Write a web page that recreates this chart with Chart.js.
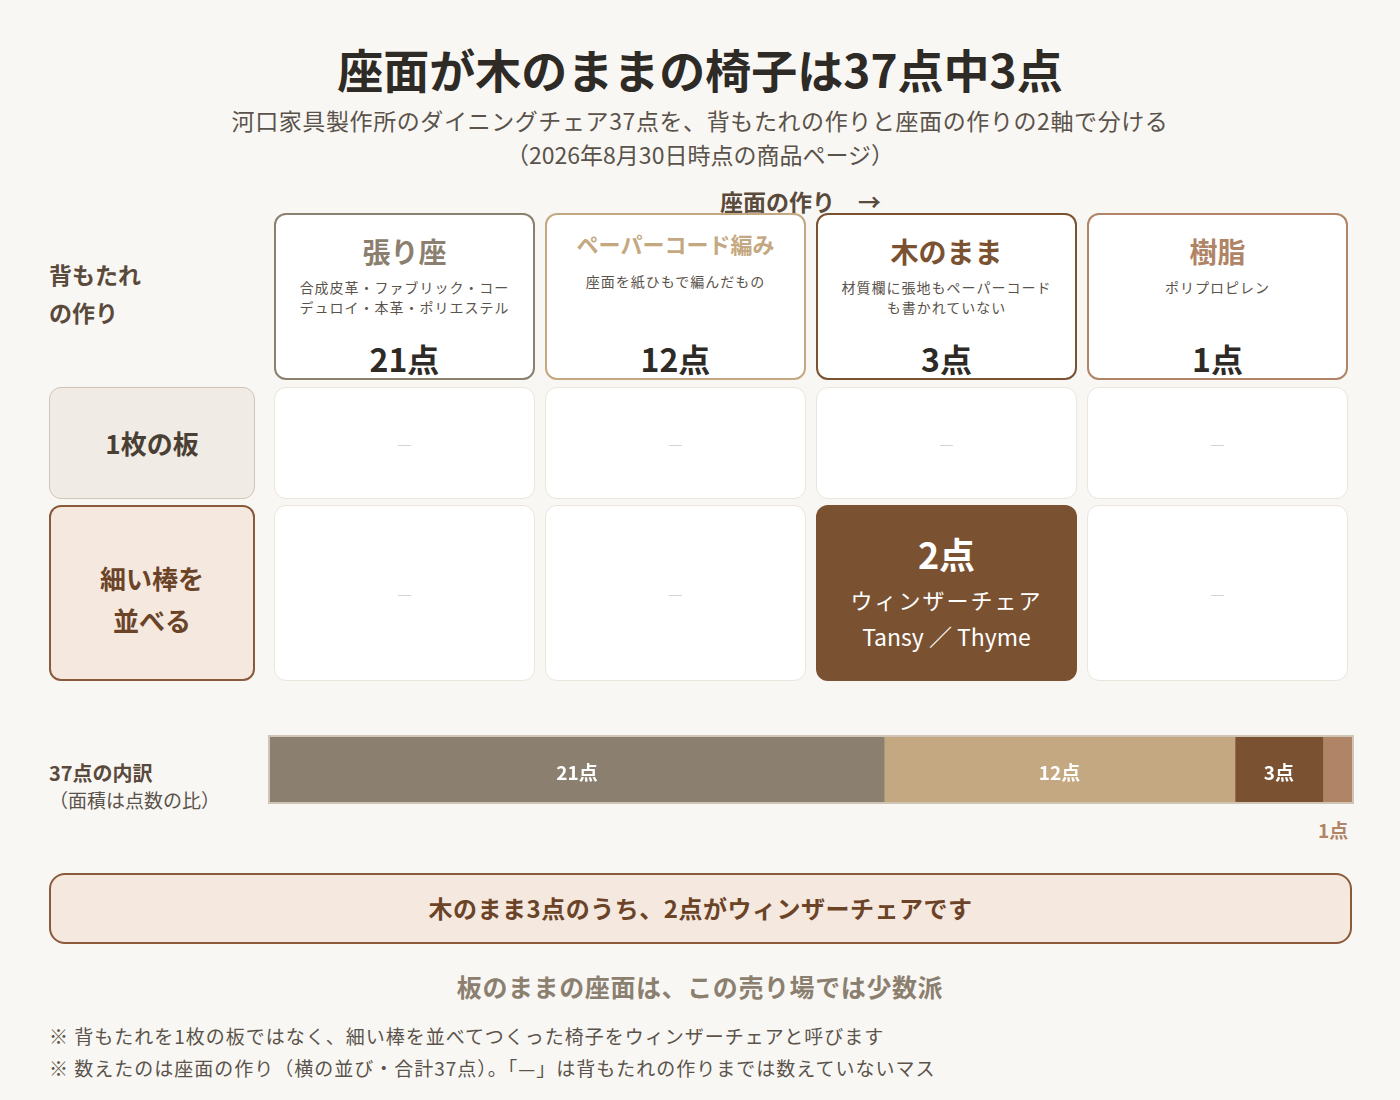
<!DOCTYPE html>
<html><head><meta charset="utf-8">
<script src="https://cdn.jsdelivr.net/npm/chart.js@4"></script>
<style>
body{margin:0;width:1400px;height:1100px;background:#f9f7f3;font-family:"Noto Sans CJK JP",sans-serif;color:#3a332c;position:relative;overflow:hidden}
.a{position:absolute}
.c{text-align:center}
.card{position:absolute;box-sizing:border-box;border-radius:12px;background:#fff}
.dash{color:#d8d2c8;font-size:16px}
</style></head><body>
<div class="a c" style="left:0;width:1400px;top:38px;font-size:46px;line-height:60px;font-weight:700;color:#2e2a25">座面が木のままの椅子は37点中3点</div>
<div class="a c" style="left:0;width:1400px;top:104px;font-size:23px;line-height:32px;color:#5a534b;letter-spacing:0.6px">河口家具製作所のダイニングチェア37点を、背もたれの作りと座面の作りの2軸で分ける</div>
<div class="a c" style="left:0;width:1400px;top:138px;font-size:23px;line-height:32px;color:#5a534b">（2026年8月30日時点の商品ページ）</div>
<div class="a" style="left:720px;top:184px;font-size:23px;font-weight:700;color:#5a4a3c">座面の作り　→</div>
<div class="a" style="left:49px;top:255px;font-size:23px;font-weight:700;color:#5a4a3c;line-height:38px">背もたれ<br>の作り</div>
<div id="grid"></div>
<div class="a" style="left:49px;top:758px;font-size:20px;font-weight:700;color:#5a4a3c">37点の内訳</div>
<div class="a" style="left:49px;top:786px;font-size:19px;color:#5a534b">（面積は点数の比）</div>
<div class="a" style="left:268px;top:735px;width:1086px;height:69px"><canvas id="bar"></canvas></div>
<div class="a" style="left:1318px;top:816px;font-size:19px;font-weight:700;color:#b08466">1点</div>
<div class="card c" style="left:49px;top:873px;width:1303px;height:71px;background:#f5e8df;border:2.5px solid #8b5a3a;border-radius:16px;font-size:24px;font-weight:700;color:#6b4428;line-height:66px;letter-spacing:0.5px">木のまま3点のうち、2点がウィンザーチェアです</div>
<div class="a c" style="left:0;width:1400px;top:968px;font-size:25px;font-weight:700;color:#8b8070;letter-spacing:0.6px">板のままの座面は、この売り場では少数派</div>
<div class="a" style="left:49px;top:1022px;font-size:19px;color:#5a534b;letter-spacing:1px">※ 背もたれを1枚の板ではなく、細い棒を並べてつくった椅子をウィンザーチェアと呼びます</div>
<div class="a" style="left:49px;top:1054px;font-size:19px;color:#5a534b;letter-spacing:1px">※ 数えたのは座面の作り（横の並び・合計37点）。「—」は背もたれの作りまでは数えていないマス</div>
<script>
const seatTypes = ['張り座', 'ペーパーコード編み', '木のまま', '樹脂'];
const seatNotes = ['合成皮革・ファブリック・コー\nデュロイ・本革・ポリエステル', '座面を紙ひもで編んだもの', '材質欄に張地もペーパーコード\nも書かれていない', 'ポリプロピレン'];
const seatCounts = [21, 12, 3, 1];
const backTypes = ['1枚の板', '細い棒を\n並べる'];
const windsorCount = 2;
const windsorNames = 'Tansy ／ Thyme';
const colors = ['#8b8070', '#c4a882', '#7a5232', '#b08466'];

const grid = document.getElementById('grid');
const xs = [274, 545, 816, 1087];
let html = '';
seatTypes.forEach((t, i) => {
  html += `<div class="card c" style="left:${xs[i]}px;top:213px;width:261px;height:167px;border:2.5px solid ${colors[i]}">
    <div style="margin-top:${i == 1 ? 12 : 16}px;font-size:${i == 1 ? 22 : 28}px;font-weight:700;color:${colors[i]}">${t}</div>
    <div style="margin-top:${i == 1 ? 12 : 6}px;font-size:14px;color:#5a534b;line-height:20px;white-space:pre-line;letter-spacing:1px">${seatNotes[i]}</div>
    <div class="a" style="left:0;width:100%;top:120px;font-size:32px;font-weight:700;color:#2e2a25">${seatCounts[i]}点</div></div>`;
});
html += `<div class="card c" style="left:49px;top:387px;width:206px;height:112px;background:#f0ebe4;border:1.5px solid #cfc5b5;font-size:26px;font-weight:700;color:#4a3f35;line-height:110px">${backTypes[0]}</div>`;
html += `<div class="card c" style="left:49px;top:505px;width:206px;height:176px;background:#f5e8df;border:2.5px solid #8b5a3a;font-size:26px;font-weight:700;color:#6b4428;padding-top:50px;line-height:42px;white-space:pre-line">${backTypes[1]}</div>`;
xs.forEach((x, i) => {
  html += `<div class="card c dash" style="left:${x}px;top:387px;width:261px;height:112px;border:1.5px solid #ebe5dc;line-height:110px">—</div>`;
  if (i == 2) {
    html += `<div class="card c" style="left:${x}px;top:505px;width:261px;height:176px;background:#7a5232;color:#fff">
      <div style="margin-top:22px;font-size:36px;font-weight:700">${windsorCount}点</div>
      <div style="margin-top:4px;font-size:22px;letter-spacing:2px">ウィンザーチェア</div>
      <div style="margin-top:4px;font-size:23px">${windsorNames}</div></div>`;
  } else {
    html += `<div class="card c dash" style="left:${x}px;top:505px;width:261px;height:176px;border:1.5px solid #ebe5dc;line-height:174px">—</div>`;
  }
});
grid.innerHTML = html;

const labelPlugin = {
  id: 'segLabels',
  afterDatasetsDraw(chart) {
    const ctx = chart.ctx;
    ctx.save();
    ctx.fillStyle = '#fff';
    ctx.font = 'bold 19px "Noto Sans CJK JP"';
    ctx.textAlign = 'center';
    ctx.textBaseline = 'middle';
    chart.data.datasets.forEach((ds, i) => {
      if (ds.data[0] < 2) return;
      const el = chart.getDatasetMeta(i).data[0];
      ctx.fillText(ds.data[0] + '点', (el.x + el.base) / 2, el.y + 3);
    });
    ctx.restore();
  }
};

new Chart(document.getElementById('bar'), {
  type: 'bar',
  data: {
    labels: ['37点'],
    datasets: seatTypes.map((t, i) => ({
      label: t, data: [seatCounts[i]], backgroundColor: colors[i],
      borderWidth: 0, barPercentage: 1, categoryPercentage: 1
    }))
  },
  options: {
    indexAxis: 'y', responsive: true, maintainAspectRatio: false, animation: false,
    layout: { padding: 2 },
    plugins: { legend: { display: false }, tooltip: { enabled: false } },
    scales: {
      x: { stacked: true, display: false, min: 0, max: seatCounts.reduce((a, b) => a + b, 0) },
      y: { stacked: true, display: false }
    }
  },
  plugins: [labelPlugin, {
    id: 'frame',
    beforeDraw(chart) {
      const c = chart.ctx;
      c.save(); c.fillStyle = '#cfc5b5'; c.fillRect(0, 0, chart.width, chart.height); c.restore();
    }
  }]
});
</script>
</body></html>
